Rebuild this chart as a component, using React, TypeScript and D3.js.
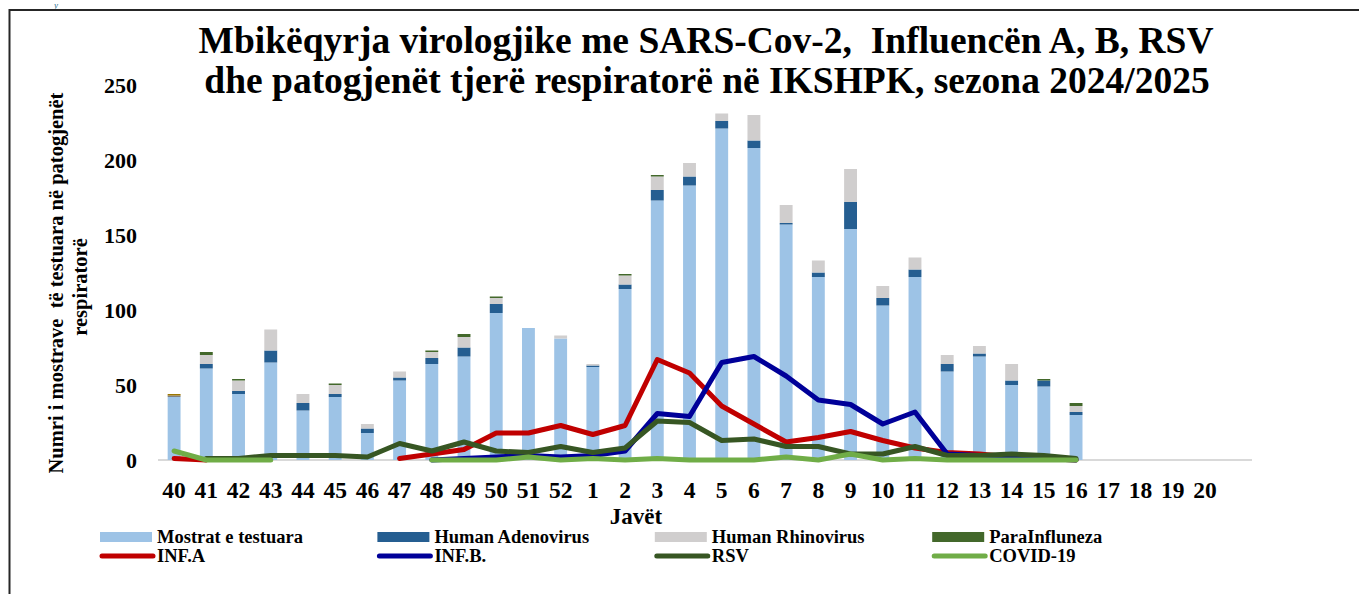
import * as d3 from "d3";

const weeks = [
  "40", "41", "42", "43", "44", "45", "46", "47", "48", "49", "50", "51", "52",
  "1", "2", "3", "4", "5", "6", "7", "8", "9", "10", "11", "12", "13", "14", "15", "16",
  "17", "18", "19", "20",
];

// stacked bars (weeks 40..16, nothing reported for 17..20)
const mostrat = [42, 61, 44, 65, 33, 42, 18, 53, 64, 69, 98, 88, 81, 62, 114, 173, 183, 221, 208, 157, 122, 154, 103, 122, 59, 69, 50, 49, 30];
const adenovirus = [0, 3, 2, 8, 5, 2, 3, 2, 4, 6, 6, 0, 0, 1, 3, 7, 6, 5, 5, 1, 3, 18, 5, 5, 5, 2, 3, 4, 2];
const rhinovirus = [0, 6, 7, 14, 6, 6, 3, 4, 4, 7, 4, 0, 2, 1, 6, 9, 9, 5, 17, 12, 8, 22, 8, 8, 6, 5, 11, 0, 4];
const paraInfluenza = [0, 2, 1, 0, 0, 1, 0, 0, 1, 2, 1, 0, 0, 0, 1, 1, 0, 0, 0, 0, 0, 0, 0, 0, 0, 0, 0, 1, 2];
// two small unnamed segments only on week 40
const otherGray = [1, 0, 0, 0, 0, 0, 0, 0, 0, 0, 0, 0, 0, 0, 0, 0, 0, 0, 0, 0, 0, 0, 0, 0, 0, 0, 0, 0, 0];
const otherGold = [1, 0, 0, 0, 0, 0, 0, 0, 0, 0, 0, 0, 0, 0, 0, 0, 0, 0, 0, 0, 0, 0, 0, 0, 0, 0, 0, 0, 0];

// lines (null = no point)
const infA = [1, 0, null, null, null, null, null, 1, 4, 7, 18, 18, 23, 17, 23, 67, 58, 36, 24, 12, 15, 19, 13, 8, 5, 4, 2, 1, 0];
const infB = [null, null, null, null, null, null, null, null, 0, 1, 2, 3, 2, 3, 6, 31, 29, 65, 69, 56, 40, 37, 24, 32, 4, 3, 1, 1, 0];
const rsv = [null, 1, 1, 3, 3, 3, 2, 11, 6, 12, 6, 5, 9, 5, 8, 26, 25, 13, 14, 9, 9, 4, 4, 9, 3, 3, 4, 3, 1];
const covid = [6, 0, 0, 0, null, null, null, null, 0, 0, 0, 2, 0, 1, 0, 1, 0, 0, 0, 2, 0, 4, 0, 1, 0, 0, 0, 0, 0];

const yTicks = [0, 50, 100, 150, 200, 250];

const barSeries = [
  { key: "Mostrat e testuara", values: mostrat, color: "#9dc3e6" },
  { key: "Human Adenovirus", values: adenovirus, color: "#255e91" },
  { key: "Human Rhinovirus", values: rhinovirus, color: "#d0cece" },
  { key: "other1", values: otherGray, color: "#7f7f7f" },
  { key: "other2", values: otherGold, color: "#9c7600" },
  { key: "ParaInfluneza", values: paraInfluenza, color: "#43682b" },
];

const lineSeries = [
  { key: "INF.A", values: infA, color: "#c00000" },
  { key: "INF.B.", values: infB, color: "#000099" },
  { key: "RSV", values: rsv, color: "#375623" },
  { key: "COVID-19", values: covid, color: "#70ad47" },
];

const W = 1359;
const H = 594;

export default function App() {
  const x = d3.scaleBand<string>().domain(weeks).range([158, 1221]).paddingInner(0.6).paddingOuter(0.3);
  const y = d3.scaleLinear().domain([0, 250]).range([460, 85]);

  const rows = mostrat.map((_, i) => {
    const r: Record<string, number | string> = { week: weeks[i] };
    barSeries.forEach((s) => (r[s.key] = s.values[i]));
    return r;
  });
  const stacked = d3.stack<any>().keys(barSeries.map((s) => s.key))(rows);

  const line = d3
    .line<number | null>()
    .defined((d) => d !== null)
    .x((_, i) => (x(weeks[i]) ?? 0) + x.bandwidth() / 2)
    .y((d) => y(d as number));

  const legendItems = [
    { label: "Mostrat e testuara", color: "#9dc3e6", kind: "rect" },
    { label: "Human Adenovirus", color: "#255e91", kind: "rect" },
    { label: "Human Rhinovirus", color: "#d0cece", kind: "rect" },
    { label: "ParaInfluneza", color: "#43682b", kind: "rect" },
    ...lineSeries.map((s) => ({ label: s.key, color: s.color, kind: "line" })),
  ];

  return (
    <svg width={W} height={H} style={{ position: "absolute", left: 0, top: 0, background: "#fff" }}>
      <g fontFamily="Liberation Serif">
        <rect x={0} y={0} width={W} height={H} fill="#fff" />
        {/* caption letter above the frame */}
        <text x={54} y={8} fill="#1f6f8b" fontSize={9} fontStyle="italic">y</text>
        <rect x={9.5} y={10} width={W + 10} height={H + 10} fill="none" stroke="#262626" strokeWidth={2} />

        <g fontWeight="bold" fontSize={37.5} textAnchor="middle">
          <text x={706} y={53} style={{ whiteSpace: "pre" }}>
            Mbikëqyrja virologjike me SARS-Cov-2,  Influencën A, B, RSV
          </text>
          <text x={707} y={93}>
            dhe patogjenët tjerë respiratorë në IKSHPK, sezona 2024/2025
          </text>
        </g>

        {/* y axis labels */}
        {yTicks.map((t) => (
          <text key={t} x={137} y={y(t)} dy="0.35em" textAnchor="end" fontSize={22} fontWeight="bold">
            {t}
          </text>
        ))}
        <g transform="translate(63,283) rotate(-90)" fontSize={20.5} fontWeight="bold" textAnchor="middle">
          <text style={{ whiteSpace: "pre" }}>Numri i mostrave  të testuara në patogjenët</text>
          <text y={24} dx={-4}>respiratorë</text>
        </g>

        {/* baseline */}
        <line x1={158} x2={1252} y1={y(0)} y2={y(0)} stroke="#d9d9d9" strokeWidth={2} />

        {/* bars */}
        {stacked.map((layer, li) => (
          <g key={layer.key} fill={barSeries[li].color}>
            {layer.map((d, i) =>
              d[1] - d[0] > 0 ? (
                <rect
                  key={i}
                  x={x(weeks[i])}
                  width={x.bandwidth()}
                  y={y(d[1])}
                  height={y(d[0]) - y(d[1])}
                />
              ) : null
            )}
          </g>
        ))}

        {/* lines */}
        {lineSeries.map((s) => (
          <path
            key={s.key}
            d={line(s.values) ?? ""}
            fill="none"
            stroke={s.color}
            strokeWidth={5}
            strokeLinejoin="round"
            strokeLinecap="round"
          />
        ))}

        {/* x labels */}
        {weeks.map((w) => (
          <text
            key={w}
            x={(x(w) ?? 0) + x.bandwidth() / 2}
            y={498}
            textAnchor="middle"
            fontSize={23.5}
            fontWeight="bold"
          >
            {w}
          </text>
        ))}
        <text x={636} y={524} textAnchor="middle" fontSize={23} fontWeight="bold">
          Javët
        </text>

        {/* legend */}
        {legendItems.map((item, i) => {
          const col = i % 4;
          const row = Math.floor(i / 4);
          const lx = 100 + col * 277.4;
          const ly = 537 + row * 19;
          return (
            <g key={item.label}>
              {item.kind === "rect" ? (
                <rect x={lx} y={ly - 5} width={52} height={10} fill={item.color} />
              ) : (
                <line x1={lx + 2} x2={lx + 53} y1={ly} y2={ly} stroke={item.color} strokeWidth={5} strokeLinecap="round" />
              )}
              <text x={lx + 57} y={ly} dy="0.35em" fontSize={18.5} fontWeight="bold">
                {item.label}
              </text>
            </g>
          );
        })}
      </g>
    </svg>
  );
}
